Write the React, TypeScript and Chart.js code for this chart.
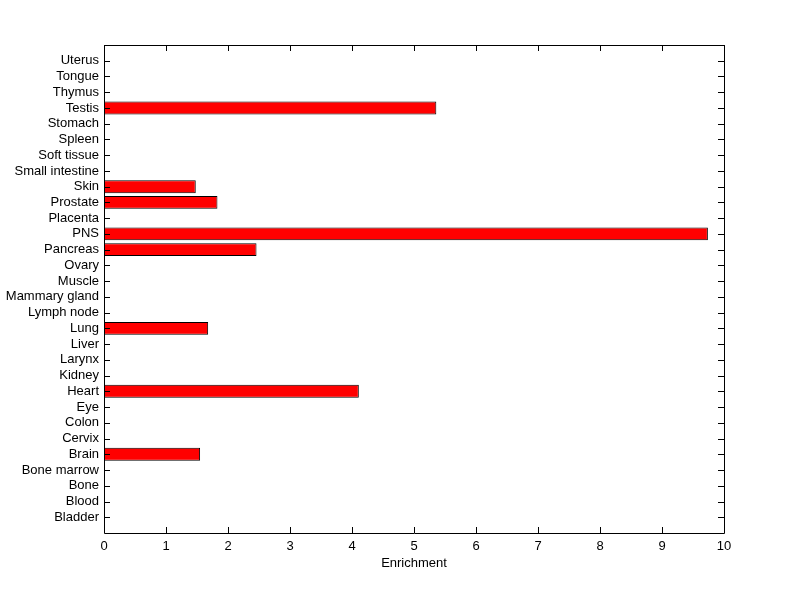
import React, { useEffect, useRef } from "react";
import { Chart, registerables } from "chart.js";

Chart.register(...registerables);

// Categories listed from top to bottom
const tissues: string[] = [
  "Uterus", "Tongue", "Thymus", "Testis", "Stomach", "Spleen", "Soft tissue",
  "Small intestine", "Skin", "Prostate", "Placenta", "PNS", "Pancreas", "Ovary",
  "Muscle", "Mammary gland", "Lymph node", "Lung", "Liver", "Larynx", "Kidney",
  "Heart", "Eye", "Colon", "Cervix", "Brain", "Bone marrow", "Bone", "Blood", "Bladder",
];

const enrichment: (number | null)[] = [
  null, null, null, 5.36, null, null, null,
  null, 1.48, 1.83, null, 9.74, 2.46, null,
  null, null, null, 1.68, null, null, null,
  4.11, null, null, null, 1.55, null, null, null, null,
];

const xTicks: number[] = [0, 1, 2, 3, 4, 5, 6, 7, 8, 9, 10];
const xTitle = "Enrichment";

const FONT = "'Liberation Sans', Arial, sans-serif";

const framePlugin = {
  id: "matlabFrame",
  afterDraw(chart: any) {
    const { ctx, chartArea } = chart;
    const { left, right, top, bottom } = chartArea;
    const xs = chart.scales.x;
    const ys = chart.scales.y;
    const tl = 6;
    ctx.save();
    ctx.strokeStyle = "#000";
    ctx.lineWidth = 1;
    ctx.beginPath();
    ctx.rect(Math.round(left) + 0.5, Math.round(top) + 0.5, Math.round(right - left), Math.round(bottom - top));
    ctx.stroke();
    ctx.beginPath();
    xTicks.forEach((v) => {
      const px = Math.round(xs.getPixelForValue(v)) + 0.5;
      ctx.moveTo(px, bottom);
      ctx.lineTo(px, bottom - tl);
      ctx.moveTo(px, top);
      ctx.lineTo(px, top + tl);
    });
    tissues.forEach((_, i) => {
      const py = Math.round(ys.getPixelForValue(i + 1)) + 0.5;
      ctx.moveTo(left, py);
      ctx.lineTo(left + tl, py);
      ctx.moveTo(right, py);
      ctx.lineTo(right - tl, py);
    });
    ctx.stroke();
    ctx.restore();
  },
};

export default function App() {
  const ref = useRef<HTMLCanvasElement | null>(null);
  useEffect(() => {
    if (!ref.current) return;
    const labels = ["", ...tissues, ""];
    const data = [null, ...enrichment, null];
    const chart = new Chart(ref.current, {
      type: "bar",
      data: {
        labels,
        datasets: [
          {
            data,
            backgroundColor: "#ff0000",
            borderColor: "#000000",
            borderWidth: 1,
            borderSkipped: false,
            barPercentage: 0.82,
            categoryPercentage: 1,
          },
        ],
      },
      options: {
        indexAxis: "y",
        responsive: false,
        animation: false,
        layout: { padding: { left: 0, right: 76, top: 45, bottom: 0 } },
        plugins: { legend: { display: false }, tooltip: { enabled: false } },
        scales: {
          x: {
            type: "linear",
            min: 0,
            max: 10,
            afterBuildTicks: (scale: any) => {
              scale.ticks = xTicks.map((v) => ({ value: v }));
            },
            afterFit: (scale: any) => {
              scale.height = 66;
            },
            grid: { display: false, drawTicks: false },
            border: { display: false },
            ticks: { color: "#000", font: { family: FONT, size: 13 }, padding: 6, maxRotation: 0 },
            title: {
              display: true,
              text: xTitle,
              color: "#000",
              font: { family: FONT, size: 13 },
              padding: { top: 0, bottom: 28 },
            },
          },
          y: {
            type: "category",
            offset: false,
            afterFit: (scale: any) => {
              scale.width = 104;
            },
            grid: { display: false, drawTicks: false },
            border: { display: false },
            ticks: { color: "#000", font: { family: FONT, size: 13 }, padding: 5, autoSkip: false },
          },
        },
      },
      plugins: [framePlugin],
    });
    return () => chart.destroy();
  }, []);
  return (
    <div style={{ position: "fixed", left: 0, top: 0, width: 800, height: 599, background: "#fff" }}>
      <canvas ref={ref} width={800} height={599} style={{ width: 800, height: 599 }} />
    </div>
  );
}
